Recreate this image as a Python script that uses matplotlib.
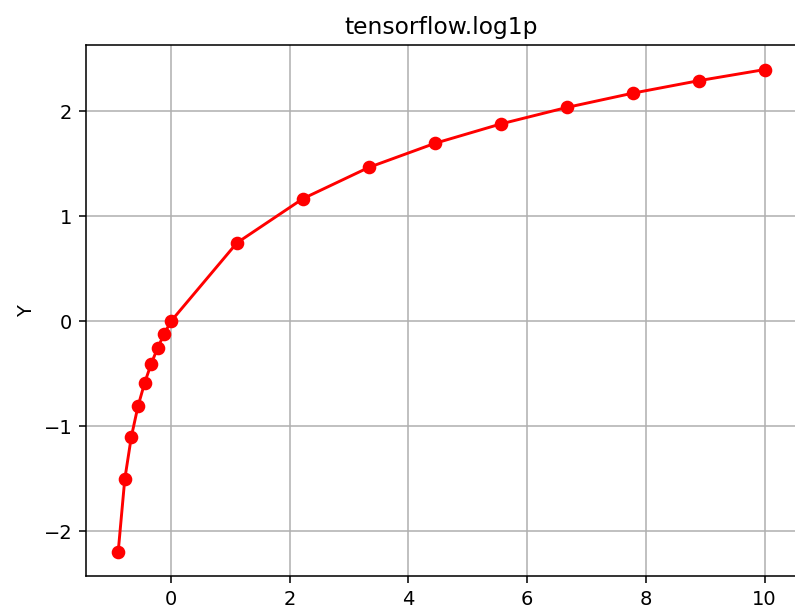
# log1p 曲线：负半轴 9 个点 + 正半轴 9 个点
import matplotlib
matplotlib.use("Agg")
from matplotlib import pyplot as plt

x_vals = [-0.889, -0.778, -0.667, -0.556, -0.444, -0.333, -0.222, -0.111, 0.0,
          1.111, 2.222, 3.333, 4.444, 5.556, 6.667, 7.778, 8.889, 10.0]
y_vals = [-2.197, -1.504, -1.099, -0.811, -0.588, -0.405, -0.251, -0.118, 0.0,
          0.747, 1.168, 1.466, 1.695, 1.880, 2.037, 2.173, 2.292, 2.398]

DPI = 140
fig = plt.figure(figsize=(795 / DPI, 606 / DPI), dpi=DPI)
ax = fig.add_axes([0.108, 0.0495, 0.8945, 0.8755])

ax.plot(x_vals, y_vals, color="red", marker="o")
ax.grid(True)
ax.set_title("tensorflow.log1p")
ax.set_ylabel("Y")

fig.savefig("out.png", dpi=DPI)
